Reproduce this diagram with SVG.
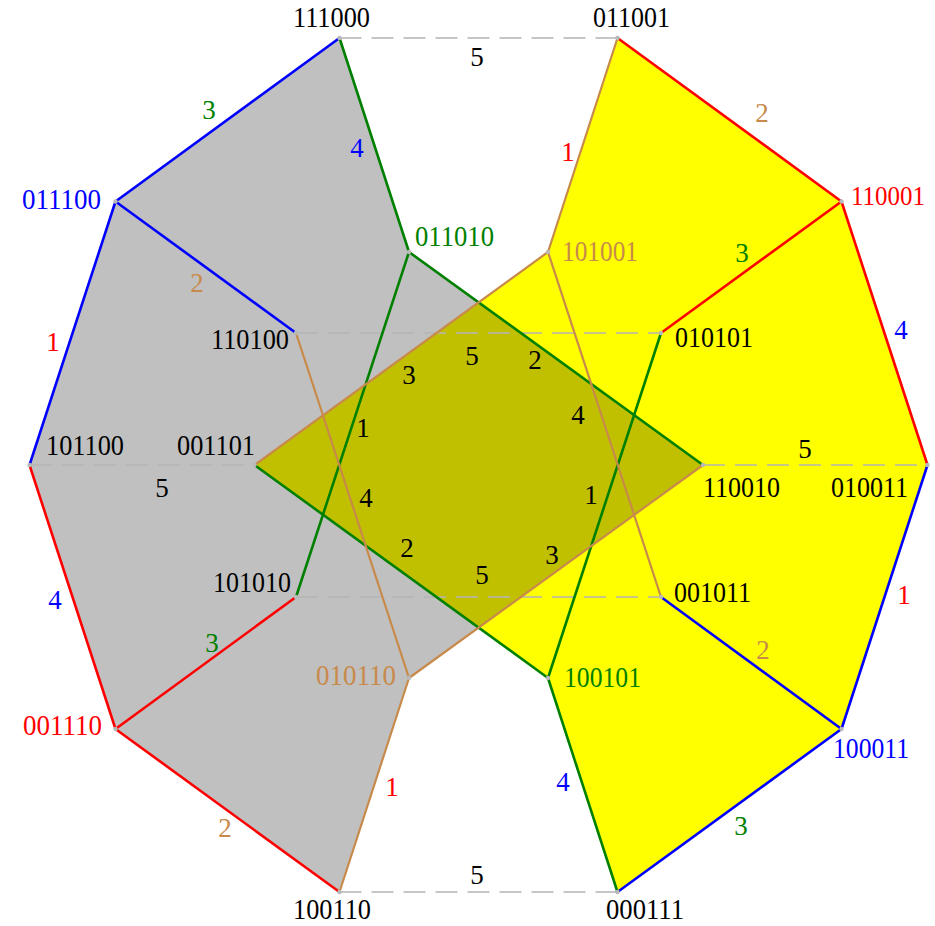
<svg xmlns="http://www.w3.org/2000/svg" width="935" height="926" viewBox="0 0 935 926">
<style>
text{font-family:"Liberation Serif","Times New Roman",serif;font-size:27px}
.l{font-size:29px}
.m{text-anchor:middle}
.k{fill:#000}.b{fill:#0000ff}.r{fill:#ff0000}.g{fill:#008000}.n{fill:#c88a4a}
.e{fill:none;stroke-width:2.6;stroke-linecap:round}
.eb{stroke:#0000ff}.er{stroke:#ff0000}.eg{stroke:#008000}.en{stroke:#c88a4a;stroke-width:2.2}
.d{fill:none;stroke:#b4b4b4;stroke-width:1.6;stroke-dasharray:22 10}
.v{fill:#b8b8b8}
</style>
<g id="regions">
<polygon points="339.5,38 115.5,201.5 29.5,465 115.5,729 339.5,892 409,678 703,465 409,252" fill="#c0c0c0"/>
<polygon points="617.5,38 841.5,201.5 927.5,465 841.5,729 617.5,892 548,678 254.5,465 548,252" fill="#ffff00"/>
<polygon points="254.5,465 478.6,302.4 703,465 478.6,627.6" fill="#c0c000"/>
</g>
<g id="connectors">
<line class="d" x1="339.5" y1="38" x2="617.5" y2="38"/>
<line class="d" x1="296" y1="333" x2="661" y2="333"/>
<line class="d" x1="29.5" y1="465" x2="254.5" y2="465"/>
<line class="d" x1="703" y1="465" x2="927.5" y2="465"/>
<line class="d" x1="296" y1="597" x2="661" y2="597"/>
<line class="d" x1="339.5" y1="892" x2="617.5" y2="892"/>
<line class="e eb" x1="339.5" y1="38" x2="115.5" y2="201.5"/>
<line class="e eb" x1="115.5" y1="201.5" x2="29.5" y2="465"/>
<line class="e eb" x1="115.5" y1="201.5" x2="296" y2="333"/>
<line class="e eb" x1="927.5" y1="465" x2="841.5" y2="729"/>
<line class="e eb" x1="661" y1="597" x2="841.5" y2="729"/>
<line class="e eb" x1="841.5" y1="729" x2="617.5" y2="892"/>
<line class="e er" x1="29.5" y1="465" x2="115.5" y2="729"/>
<line class="e er" x1="115.5" y1="729" x2="339.5" y2="892"/>
<line class="e er" x1="296" y1="597" x2="115.5" y2="729"/>
<line class="e er" x1="617.5" y1="38" x2="841.5" y2="201.5"/>
<line class="e er" x1="841.5" y1="201.5" x2="661" y2="333"/>
<line class="e er" x1="841.5" y1="201.5" x2="927.5" y2="465"/>
<line class="e eg" x1="339.5" y1="38" x2="409" y2="252"/>
<line class="e eg" x1="409" y1="252" x2="296" y2="597"/>
<line class="e eg" x1="409" y1="252" x2="703" y2="465"/>
<line class="e eg" x1="254.5" y1="465" x2="548" y2="678"/>
<line class="e eg" x1="617.5" y1="892" x2="548" y2="678"/>
<line class="e eg" x1="661" y1="333" x2="548" y2="678"/>
<line class="e en" x1="296" y1="333" x2="409" y2="678"/>
<line class="e en" x1="409" y1="678" x2="339.5" y2="892"/>
<line class="e en" x1="409" y1="678" x2="703" y2="465"/>
<line class="e en" x1="254.5" y1="465" x2="548" y2="252"/>
<line class="e en" x1="617.5" y1="38" x2="548" y2="252"/>
<line class="e en" x1="548" y1="252" x2="661" y2="597"/>
<text class="m k" x="477" y="66">5</text>
<text class="m g" x="209" y="119">3</text>
<text class="m b" x="357" y="157">4</text>
<text class="m n" x="197" y="292">2</text>
<text class="m r" x="53" y="351">1</text>
<text class="m k" x="162" y="497">5</text>
<text class="m b" x="55" y="609">4</text>
<text class="m g" x="212" y="652">3</text>
<text class="m n" x="225" y="837">2</text>
<text class="m r" x="392" y="796">1</text>
<text class="m k" x="477" y="884">5</text>
<text class="m b" x="563" y="791">4</text>
<text class="m g" x="741" y="835">3</text>
<text class="m n" x="763" y="659">2</text>
<text class="m r" x="904" y="604">1</text>
<text class="m k" x="805" y="458">5</text>
<text class="m b" x="901" y="339">4</text>
<text class="m g" x="742" y="262">3</text>
<text class="m n" x="762" y="122">2</text>
<text class="m r" x="568" y="161">1</text>
<text class="m k" x="409" y="384">3</text>
<text class="m k" x="472" y="365">5</text>
<text class="m k" x="535" y="369">2</text>
<text class="m k" x="363" y="437">1</text>
<text class="m k" x="578" y="424">4</text>
<text class="m k" x="366" y="507">4</text>
<text class="m k" x="591" y="504">1</text>
<text class="m k" x="407" y="557">2</text>
<text class="m k" x="482" y="584">5</text>
<text class="m k" x="552" y="564">3</text>
</g>
<g id="n111000"><circle class="v" cx="339.5" cy="38" r="2.2"/><text class="l k" x="293" y="27" textLength="77" lengthAdjust="spacingAndGlyphs">111000</text></g>
<g id="n011001"><circle class="v" cx="617.5" cy="38" r="2.2"/><text class="l k" x="593" y="27" textLength="77" lengthAdjust="spacingAndGlyphs">011001</text></g>
<g id="n011100"><circle class="v" cx="115.5" cy="201.5" r="2.2"/><text class="l b" x="22" y="209" textLength="79" lengthAdjust="spacingAndGlyphs">011100</text></g>
<g id="n110001"><circle class="v" cx="841.5" cy="201.5" r="2.2"/><text class="r" x="851" y="205" textLength="74" lengthAdjust="spacingAndGlyphs">110001</text></g>
<g id="n011010"><circle class="v" cx="409" cy="252" r="2.2"/><text class="l g" x="415" y="246" textLength="79" lengthAdjust="spacingAndGlyphs">011010</text></g>
<g id="n101001"><circle class="v" cx="548" cy="252" r="2.2"/><text class="l n" x="562" y="261" textLength="76" lengthAdjust="spacingAndGlyphs">101001</text></g>
<g id="n110100"><circle class="v" cx="296" cy="333" r="2.2"/><text class="l k" x="211" y="349" textLength="78" lengthAdjust="spacingAndGlyphs">110100</text></g>
<g id="n010101"><circle class="v" cx="661" cy="333" r="2.2"/><text class="l k" x="675" y="347" textLength="78" lengthAdjust="spacingAndGlyphs">010101</text></g>
<g id="n101100"><circle class="v" cx="29.5" cy="465" r="2.2"/><text class="l k" x="46" y="455" textLength="78" lengthAdjust="spacingAndGlyphs">101100</text></g>
<g id="n001101"><circle class="v" cx="254.5" cy="465" r="2.2"/><text class="l k" x="177" y="455" textLength="78" lengthAdjust="spacingAndGlyphs">001101</text></g>
<g id="n110010"><circle class="v" cx="703" cy="465" r="2.2"/><text class="l k" x="703" y="497" textLength="77" lengthAdjust="spacingAndGlyphs">110010</text></g>
<g id="n010011"><circle class="v" cx="927.5" cy="465" r="2.2"/><text class="l k" x="831" y="497" textLength="77" lengthAdjust="spacingAndGlyphs">010011</text></g>
<g id="n101010"><circle class="v" cx="296" cy="597" r="2.2"/><text class="l k" x="213" y="592" textLength="78" lengthAdjust="spacingAndGlyphs">101010</text></g>
<g id="n001011"><circle class="v" cx="661" cy="597" r="2.2"/><text class="l k" x="674" y="602" textLength="77" lengthAdjust="spacingAndGlyphs">001011</text></g>
<g id="n010110"><circle class="v" cx="409" cy="678" r="2.2"/><text class="l n" x="316" y="685" textLength="80" lengthAdjust="spacingAndGlyphs">010110</text></g>
<g id="n100101"><circle class="v" cx="548" cy="678" r="2.2"/><text class="l g" x="564" y="687" textLength="77" lengthAdjust="spacingAndGlyphs">100101</text></g>
<g id="n001110"><circle class="v" cx="115.5" cy="729" r="2.2"/><text class="l r" x="23" y="735" textLength="79" lengthAdjust="spacingAndGlyphs">001110</text></g>
<g id="n100011"><circle class="v" cx="841.5" cy="729" r="2.2"/><text class="l b" x="833" y="758" textLength="76" lengthAdjust="spacingAndGlyphs">100011</text></g>
<g id="n100110"><circle class="v" cx="339.5" cy="892" r="2.2"/><text class="l k" x="293" y="919" textLength="78" lengthAdjust="spacingAndGlyphs">100110</text></g>
<g id="n000111"><circle class="v" cx="617.5" cy="892" r="2.2"/><text class="l k" x="606" y="919" textLength="78" lengthAdjust="spacingAndGlyphs">000111</text></g>
</svg>
